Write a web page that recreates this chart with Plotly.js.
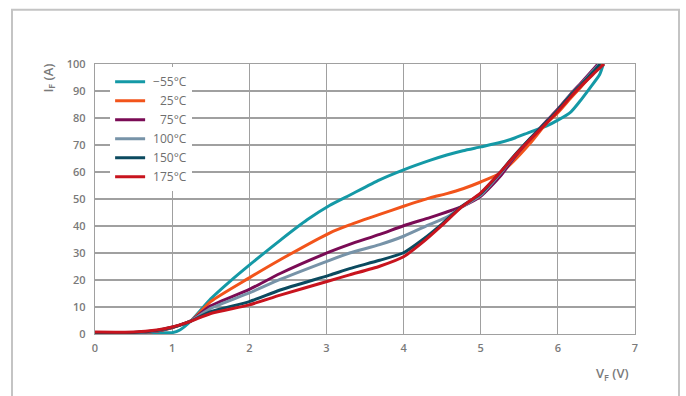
<!DOCTYPE html>
<html><head><meta charset="utf-8">
<script src="https://cdn.plot.ly/plotly-3.0.1.min.js"></script>
<style>html,body{margin:0;padding:0;background:#fff}#chart{width:686px;height:396px}</style>
</head><body><div id="chart"></div>
<script>
const names = ["\u2005\u221255\u00b0C", "\u2005\u200725\u00b0C", "\u2005\u200775\u00b0C", "\u2005100\u00b0C", "\u2005150\u00b0C", "\u2005175\u00b0C"];
const colors = ["#1499a6", "#f2541b", "#7a0b55", "#7793a8", "#0b4a5f", "#c8141e"];

const vfN55 = [0, 0.5, 0.8, 1.0, 1.1, 1.25, 1.5, 1.75, 2.0, 2.4, 2.75, 3.04, 3.3, 3.69, 4.0, 4.34, 4.56, 4.77, 5.0, 5.25, 5.45, 5.64, 5.85, 6.0, 6.17, 6.28, 6.41, 6.54, 6.59];
const ifN55 = [0.5, 0.5, 0.5, 0.5, 1.5, 5, 13, 19.5, 25.5, 34.7, 42.3, 47.6, 51.4, 57.1, 60.8, 64.3, 66.3, 67.9, 69.3, 70.9, 72.7, 74.8, 77, 79.2, 82.3, 86, 90.9, 96, 100];

const vf25 = [0, 0.5, 0.8, 1.0, 1.1, 1.25, 1.5, 2.0, 2.4, 3.04, 3.3, 3.69, 4.0, 4.34, 4.56, 4.77, 5.0, 5.25, 5.42, 5.64, 5.85, 6.0, 6.17, 6.3, 6.45, 6.57];
const if25 = [0.5, 0.5, 1.0, 2.3, 3.3, 5, 12, 20.8, 27.5, 37.4, 40.4, 44.3, 47.3, 50.4, 52, 53.8, 56.3, 59.5, 63.8, 70.6, 78, 82, 87.5, 91.5, 96.5, 100];

const vf75 = [0, 0.5, 0.8, 1.0, 1.1, 1.25, 1.5, 2.0, 2.4, 3.04, 3.3, 3.69, 4.0, 4.34, 4.56, 4.77, 5.0, 5.25, 5.42, 5.64, 5.85, 6.0, 6.17, 6.3, 6.41, 6.52];
const if75 = [0.5, 0.5, 1.1, 2.4, 3.3, 5, 10.4, 16.5, 22.4, 30.4, 33.2, 36.9, 40.1, 43.1, 45.2, 47.4, 51, 58.3, 64.8, 72.2, 78.8, 83.3, 89, 93, 96.5, 100];

const vf100 = [0, 0.5, 0.8, 1.0, 1.1, 1.25, 1.5, 2.0, 2.4, 3.04, 3.3, 3.69, 4.0, 4.34, 4.56, 4.77, 5.0, 5.25, 5.42, 5.64, 5.85, 6.0, 6.17, 6.3, 6.41, 6.54];
const if100 = [0.5, 0.5, 1.2, 2.5, 3.3, 5, 9.5, 15.2, 20.2, 27.3, 30, 33.1, 36.2, 40.6, 43.3, 47.3, 51.4, 59.3, 65.4, 72.4, 78.5, 83, 88.8, 92.5, 96, 100];

const vf150 = [0, 0.5, 0.8, 1.0, 1.1, 1.25, 1.5, 2.0, 2.4, 3.04, 3.3, 3.69, 4.0, 4.25, 4.5, 4.75, 5.0, 5.25, 5.42, 5.64, 5.85, 6.0, 6.17, 6.3, 6.45, 6.55];
const if150 = [0.6, 0.6, 1.3, 2.5, 3.3, 4.9, 8.3, 12, 16.3, 21.8, 24.2, 27.3, 30.1, 35, 40.8, 47.2, 52, 59.8, 65.6, 72.4, 78.5, 83, 88.6, 92.3, 96.8, 100];

const vf175 = [0, 0.5, 0.8, 1.0, 1.1, 1.25, 1.5, 2.0, 2.4, 3.04, 3.3, 3.69, 4.0, 4.25, 4.5, 4.75, 5.0, 5.25, 5.42, 5.64, 5.85, 6.0, 6.17, 6.3, 6.45, 6.6];
const if175 = [0.7, 0.7, 1.5, 2.6, 3.4, 4.8, 7.6, 10.8, 14.4, 19.7, 21.9, 25.1, 28.6, 34, 40.3, 47, 52.3, 59.8, 65.4, 72, 78, 82.5, 88, 91.8, 96, 100];

const xs = [vfN55, vf25, vf75, vf100, vf150, vf175];
const ys = [ifN55, if25, if75, if100, if150, if175];

const traces = xs.map((x, i) => ({
  x: x, y: ys[i], name: names[i], type: "scatter", mode: "lines",
  line: {color: colors[i], width: 3, shape: "spline", smoothing: 0.6}
}));

const tickFont = {family: "Open Sans", size: 11, color: "#7a7a7a", weight: 600};
const gridC = "#a0a0a0";

const layout = {
  width: 686, height: 396,
  margin: {l: 95, r: 51, t: 64, b: 62},
  paper_bgcolor: "#fff", plot_bgcolor: "#fff",
  showlegend: true,
  font: {family: "Open Sans", color: "#7a7a7a"},
  xaxis: {range: [0, 7], dtick: 1, tick0: 0, showgrid: true, gridcolor: gridC, gridwidth: 1.2,
          showline: true, mirror: true, linecolor: gridC, linewidth: 1.2, zeroline: false,
          ticks: "", tickfont: tickFont, ticklabelstandoff: 4, fixedrange: true},
  yaxis: {range: [0, 100], dtick: 10, tick0: 0, showgrid: true, gridcolor: gridC, gridwidth: 1.2,
          showline: true, mirror: true, linecolor: gridC, linewidth: 1.2, zeroline: false,
          ticks: "", tickfont: tickFont, ticklabelstandoff: 6, fixedrange: true},
  legend: {x: 0.028, y: 0.988, xanchor: "left", yanchor: "top", bgcolor: "#ffffff",
           borderwidth: 0, font: {family: "Open Sans", size: 12, color: "#6f6f6f"}, tracegroupgap: 0},
  annotations: [
    {text: "I<sub>F</sub> (A)", xref: "paper", yref: "paper", x: -0.086, y: 0.948, textangle: -90,
     showarrow: false, xanchor: "center", yanchor: "middle",
     font: {family: "Open Sans", size: 13, color: "#7a7a7a", weight: 600}},
    {text: "V<sub>F</sub> (V)", xref: "paper", yref: "paper", x: 0.993, y: -0.148,
     showarrow: false, xanchor: "right", yanchor: "middle",
     font: {family: "Open Sans", size: 13, color: "#7a7a7a", weight: 600}}
  ],
  shapes: [
    {type: "rect", xref: "paper", yref: "paper", x0: -0.1537, x1: 1.0815, y0: -0.26, y1: 1.2013,
     line: {color: "#c4c4c4", width: 2}, fillcolor: "rgba(0,0,0,0)", layer: "below"}
  ]
};

Plotly.newPlot("chart", traces, layout, {displayModeBar: false, staticPlot: true});
</script>
</body></html>
